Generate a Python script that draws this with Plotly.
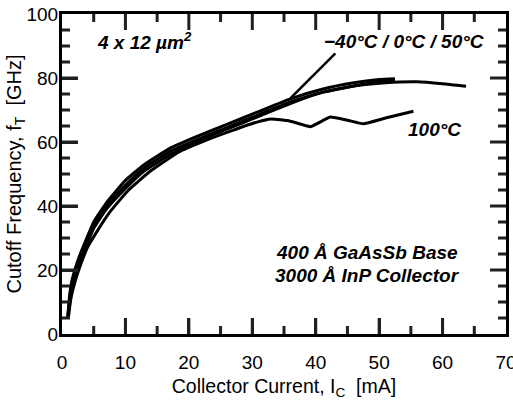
import plotly.graph_objects as go

# -40°C
x_m40 = [0.9, 1.2, 1.6, 2.5, 3.5, 5, 7, 10, 13, 17, 21, 26, 31, 36, 41, 46, 50, 52.5]
y_m40 = [5, 12, 17, 23, 28, 35, 41, 48, 53, 58, 61.5, 65.5, 69.5, 73.5, 76.5, 78.5, 79.5, 79.8]
# 0°C
x_0 = [0.9, 1.2, 1.6, 2.5, 3.5, 5, 7, 10, 13, 17, 21, 26, 31, 36, 41, 46, 50, 52.5]
y_0 = [5, 11, 16, 22, 27, 34, 40, 46.5, 52, 57, 60.5, 64.5, 68.5, 72.5, 75.5, 77.5, 78.8, 79.2]
# 50°C
x_50 = [1.0, 1.3, 1.7, 2.5, 3.5, 5, 7, 10, 13, 17, 21, 26, 31, 36, 41, 46, 51, 56, 60, 63.7]
y_50 = [6, 12, 16, 21, 26, 33, 39, 45.5, 51, 56, 60, 64, 68, 72, 75.5, 77.5, 78.5, 78.8, 78.2, 77.4]
# 100°C
x_100 = [1.0, 1.4, 2, 3, 4, 5.5, 7.5, 10.5, 14, 18.5, 22, 26, 30, 33, 36, 39.2, 42.3, 45, 47.5, 51, 55.4]
y_100 = [5, 11, 16, 22, 27, 32, 38, 45, 51, 57, 60, 63, 65.8, 67.2, 66.5, 64.8, 67.8, 66.8, 65.7, 67.5, 69.6]

# axis tick positions
x_major = [10, 20, 30, 40, 50, 60]
x_minor = [5, 15, 25, 35, 45, 55, 65]
y_major = [20, 40, 60, 80]
y_minor = [5, 10, 15, 25, 30, 35, 45, 50, 55, 65, 70, 75, 85, 90, 95]

X_RANGE = [0, 70]
Y_RANGE = [0, 100]

FONT = "Liberation Sans, Arial, sans-serif"
INK = "#000000"
TICK_INK = "#202020"

W, H = 513, 400
M = dict(l=62, r=7, t=14, b=66)
px_per_x = (W - M["l"] - M["r"]) / (X_RANGE[1] - X_RANGE[0])
px_per_y = (H - M["t"] - M["b"]) / (Y_RANGE[1] - Y_RANGE[0])
MAJOR_PX, MINOR_PX = 16, 8

fig = go.Figure()
for xs, ys in [(x_m40, y_m40), (x_0, y_0), (x_50, y_50), (x_100, y_100)]:
    fig.add_trace(go.Scatter(x=xs, y=ys, mode="lines",
                             line=dict(color=INK, width=3, shape="spline", smoothing=0.4),
                             showlegend=False, hoverinfo="skip"))

# leader line for the bundle label
fig.add_shape(type="line", x0=36, y0=73.6, x1=43.1, y1=87.7, xref="x", yref="y",
              line=dict(color=INK, width=2.5))

# inside tick marks on all four sides
tick_line = dict(color=TICK_INK, width=3)
for vals, length in [(x_major, MAJOR_PX), (x_minor, MINOR_PX)]:
    dy = length / px_per_y
    for v in vals:
        fig.add_shape(type="line", xref="x", yref="y", x0=v, x1=v,
                      y0=Y_RANGE[0], y1=Y_RANGE[0] + dy, line=tick_line)
        fig.add_shape(type="line", xref="x", yref="y", x0=v, x1=v,
                      y0=Y_RANGE[1], y1=Y_RANGE[1] - dy, line=tick_line)
for vals, length in [(y_major, MAJOR_PX), (y_minor, MINOR_PX)]:
    dx = length / px_per_x
    for v in vals:
        fig.add_shape(type="line", xref="x", yref="y", y0=v, y1=v,
                      x0=X_RANGE[0], x1=X_RANGE[0] + dx, line=tick_line)
        fig.add_shape(type="line", xref="x", yref="y", y0=v, y1=v,
                      x0=X_RANGE[1], x1=X_RANGE[1] - dx, line=tick_line)

ann_font = dict(family=FONT, size=19, color=INK)
fig.add_annotation(x=5.2, y=91.5, xref="x", yref="y", xanchor="left", yanchor="middle",
                   text="<b><i>4 x 12 µm<sup>2</sup></i></b>", showarrow=False, font=ann_font)
fig.add_annotation(x=41, y=91.5, xref="x", yref="y", xanchor="left", yanchor="middle",
                   text="<b><i>−40°C / 0°C / 50°C</i></b>", showarrow=False, font=ann_font)
fig.add_annotation(x=54.2, y=64, xref="x", yref="y", xanchor="left", yanchor="middle",
                   text="<b><i>100°C</i></b>", showarrow=False, font=ann_font)
fig.add_annotation(x=48.1, y=25.5, xref="x", yref="y", xanchor="center", yanchor="middle",
                   text="<b><i>400 Å GaAsSb Base</i></b>", showarrow=False, font=ann_font)
fig.add_annotation(x=48.1, y=18.2, xref="x", yref="y", xanchor="center", yanchor="middle",
                   text="<b><i>3000 Å InP Collector</i></b>", showarrow=False, font=ann_font)

tick_font = dict(family=FONT, size=19, color=INK)
title_font = dict(family=FONT, size=20, color=INK)

fig.update_xaxes(range=X_RANGE, dtick=10, tick0=0, automargin=False,
                 showgrid=False, zeroline=False, showline=True, linecolor=INK, linewidth=3,
                 mirror=True, ticks="inside", tickcolor=TICK_INK, tickwidth=3, ticklen=MAJOR_PX,
                 tickfont=tick_font, ticklabelstandoff=9, ticklabeloverflow="allow",
                 title=dict(text="Collector Current, I<sub>C</sub>  [mA]",
                            font=dict(family=FONT, size=19.5, color=INK), standoff=11))
fig.update_yaxes(range=Y_RANGE, dtick=20, tick0=0, automargin=False,
                 showgrid=False, zeroline=False, showline=True, linecolor=INK, linewidth=3,
                 mirror=True, ticks="inside", tickcolor=TICK_INK, tickwidth=3, ticklen=MAJOR_PX,
                 tickfont=tick_font, ticklabelstandoff=-3,
                 title=dict(text="Cutoff Frequency, f<sub>T</sub>  [GHz]", font=title_font, standoff=0))

fig.update_layout(width=W, height=H, margin=M,
                  paper_bgcolor="white", plot_bgcolor="white", template="none")

fig.write_html("out.html", config={"displayModeBar": False},
               post_script="document.body.style.margin='0px';")
